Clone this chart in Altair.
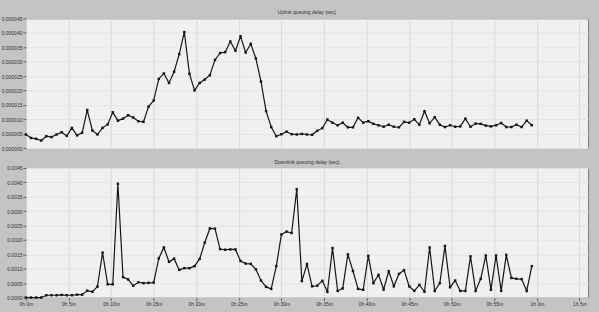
import altair as alt
import pandas as pd

# sample times (minutes)
times_min = [
    0.0, 0.6, 1.2, 1.8, 2.4, 3.0, 3.6, 4.2, 4.8, 5.4,
    6.0, 6.6, 7.2, 7.8, 8.4, 9.0, 9.6, 10.2, 10.8, 11.4,
    12.0, 12.6, 13.2, 13.8, 14.4, 15.0, 15.6, 16.2, 16.8, 17.4,
    18.0, 18.6, 19.2, 19.8, 20.4, 21.0, 21.6, 22.2, 22.8, 23.4,
    24.0, 24.6, 25.2, 25.8, 26.4, 27.0, 27.6, 28.2, 28.8, 29.4,
    30.0, 30.6, 31.2, 31.8, 32.4, 33.0, 33.6, 34.2, 34.8, 35.4,
    36.0, 36.6, 37.2, 37.8, 38.4, 39.0, 39.6, 40.2, 40.8, 41.4,
    42.0, 42.6, 43.2, 43.8, 44.4, 45.0, 45.6, 46.2, 46.8, 47.4,
    48.0, 48.6, 49.2, 49.8, 50.4, 51.0, 51.6, 52.2, 52.8, 53.4,
    54.0, 54.6, 55.2, 55.8, 56.4, 57.0, 57.6, 58.2, 58.8, 59.4,
]

# Uplink queuing delay, microseconds
uplink_us = [
    4.7, 3.5, 3.2, 2.6, 4.1, 3.8, 4.7, 5.5, 4.2, 7.0,
    4.4, 5.3, 13.2, 6.1, 4.7, 7.0, 8.2, 12.4, 9.5, 10.2,
    11.4, 10.6, 9.3, 9.1, 14.4, 16.5, 24.0, 25.9, 22.6, 26.5,
    32.6, 40.3, 25.8, 20.0, 22.6, 23.8, 25.3, 30.6, 33.0, 33.3,
    37.0, 33.8, 38.8, 33.2, 36.2, 31.1, 23.1, 12.8, 7.3, 4.1,
    4.8, 5.7, 4.8, 4.7, 4.9, 4.7, 4.6, 6.0, 6.9, 9.9,
    8.8, 7.9, 8.8, 7.2, 7.2, 10.5, 8.8, 9.3, 8.4, 7.9,
    7.4, 8.1, 7.4, 7.2, 9.1, 8.8, 10.0, 8.1, 12.8, 8.6,
    10.7, 8.1, 7.3, 7.9, 7.4, 7.5, 10.2, 7.4, 8.5, 8.4,
    7.8, 7.5, 7.9, 8.7, 7.3, 7.3, 8.1, 7.3, 9.5, 7.9,
]

# Downlink queuing delay, milliseconds
downlink_ms = [
    0.0, 0.0, 0.0, 0.0, 0.08, 0.08, 0.08, 0.09, 0.08, 0.08,
    0.10, 0.10, 0.24, 0.20, 0.38, 1.56, 0.46, 0.46, 3.95, 0.71,
    0.63, 0.41, 0.53, 0.50, 0.51, 0.52, 1.36, 1.74, 1.24, 1.35,
    0.96, 1.02, 1.02, 1.09, 1.34, 1.91, 2.40, 2.39, 1.68, 1.66,
    1.67, 1.67, 1.27, 1.18, 1.17, 0.98, 0.59, 0.37, 0.30, 1.09,
    2.19, 2.29, 2.24, 3.76, 0.57, 1.16, 0.39, 0.41, 0.58, 0.20,
    1.72, 0.23, 0.32, 1.50, 0.92, 0.30, 0.27, 1.45, 0.50, 0.79,
    0.28, 0.91, 0.39, 0.82, 0.95, 0.39, 0.23, 0.44, 0.20, 1.74,
    0.23, 0.50, 1.79, 0.36, 0.59, 0.23, 0.23, 1.43, 0.23, 0.65,
    1.46, 0.27, 1.46, 0.23, 1.48, 0.68, 0.65, 0.64, 0.23, 1.09,
]

up_df = pd.DataFrame({"t": times_min, "v": [u * 1e-6 for u in uplink_us]})
dn_df = pd.DataFrame({"t": times_min, "v": [d * 1e-3 for d in downlink_ms]})

W, H = 564, 130
FONT = "Liberation Sans"
TXT = "#303030"
x_ticks = list(range(0, 70, 5))
label_expr = "floor(datum.value/60) + 'h ' + (datum.value % 60) + 'm'"

def panel(df, title, ymax, ystep, fmt, show_x):
    x_axis = alt.Axis(
        values=x_ticks, grid=True, gridColor="#d8d8d8", gridWidth=1,
        labels=show_x, ticks=show_x, tickSize=3, tickColor="#606060",
        labelExpr=label_expr, labelFontSize=5, labelFont=FONT, labelColor=TXT,
        labelPadding=1, labelFlush=False, domain=False, title=None,
    )
    y_axis = alt.Axis(
        values=[round(i * ystep, 10) for i in range(10)], format=fmt,
        grid=True, gridColor="#e3e3e3", gridWidth=1,
        tickSize=3, tickColor="#606060", labelFontSize=5, labelFont=FONT,
        labelColor=TXT, labelPadding=1, domain=False, title=None,
    )
    return (
        alt.Chart(df)
        .mark_line(
            color="#151515", strokeWidth=1.2,
            point=alt.OverlayMarkDef(shape="square", size=6, filled=True, color="#151515"),
        )
        .encode(
            x=alt.X("t:Q", scale=alt.Scale(domain=[0, 66], nice=False, zero=False), axis=x_axis),
            y=alt.Y("v:Q", scale=alt.Scale(domain=[0, ymax], nice=False), axis=y_axis),
        )
        .properties(
            width=W, height=H,
            title=alt.TitleParams(title, fontSize=5, font=FONT, color=TXT,
                                  fontWeight="normal", anchor="middle", offset=1),
        )
    )

top = panel(up_df, "Uplink queuing delay (sec)", 0.000045, 0.000005, ".6f", False)
bot = panel(dn_df, "Downlink queuing delay (sec)", 0.0045, 0.0005, ".4f", True)

chart = (
    alt.vconcat(top, bot, spacing=20, bounds="flush")
    .properties(
        background="#c4c4c4",
        padding={"left": 0, "top": 9, "right": 10, "bottom": 8},
    )
    .configure_view(fill="#f0f0f0", stroke="#7a7a7a", strokeWidth=1)
)

chart.save("out.html", embed_options={"renderer": "svg", "actions": False})
